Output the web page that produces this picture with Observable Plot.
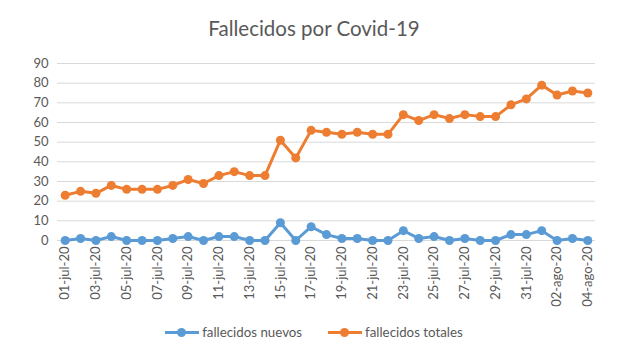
<!DOCTYPE html>
<html>
<head>
<meta charset="utf-8">
<script src="https://cdn.jsdelivr.net/npm/d3@7"></script>
<script src="https://cdn.jsdelivr.net/npm/@observablehq/plot@0.6"></script>
<style>
  body { margin: 0; background: #fff; font-family: Lato, "Open Sans", sans-serif; }
  #wrap { width: 628px; height: 353px; position: relative; overflow: hidden; }
  #title { position: absolute; top: 16px; left: 0; width: 628px; text-align: center; font-size: 20.5px; color: #595959; }
  #chart { position: absolute; top: 50px; left: 0; }
  #legend { position: absolute; top: 324px; left: 0; width: 628px; display: flex; justify-content: center; gap: 26px; font-size: 13.3px; color: #595959; }
  .item { display: flex; align-items: center; }
  .sw { position: relative; width: 34px; height: 12px; margin-right: 3px; }
  .sw .ln { position: absolute; left: 0; right: 0; top: 4.5px; height: 3px; }
  .sw .dt { position: absolute; left: 12px; top: 1.5px; width: 9px; height: 9px; border-radius: 50%; }
</style>
</head>
<body>
<div id="wrap">
  <div id="title">Fallecidos por Covid-19</div>
  <div id="chart"></div>
  <div id="legend"></div>
</div>
<script>
const fechas = ["01-jul-20","02-jul-20","03-jul-20","04-jul-20","05-jul-20","06-jul-20","07-jul-20","08-jul-20","09-jul-20","10-jul-20",
  "11-jul-20","12-jul-20","13-jul-20","14-jul-20","15-jul-20","16-jul-20","17-jul-20","18-jul-20","19-jul-20","20-jul-20",
  "21-jul-20","22-jul-20","23-jul-20","24-jul-20","25-jul-20","26-jul-20","27-jul-20","28-jul-20","29-jul-20","30-jul-20",
  "31-jul-20","01-ago-20","02-ago-20","03-ago-20","04-ago-20"];
const fallecidosNuevos = [0,1,0,2,0,0,0,1,2,0,2,2,0,0,9,0,7,3,1,1,0,0,5,1,2,0,1,0,0,3,3,5,0,1,0];
const fallecidosTotales = [23,25,24,28,26,26,26,28,31,29,33,35,33,33,51,42,56,55,54,55,54,54,64,61,64,62,64,63,63,69,72,79,74,76,75];
const yTicks = [0,10,20,30,40,50,60,70,80,90];
const seriesNames = ["fallecidos nuevos", "fallecidos totales"];
const colors = ["#5B9BD5", "#ED7D31"];

const data = [];
fechas.forEach((f, i) => {
  data.push({fecha: f, serie: seriesNames[0], valor: fallecidosNuevos[i]});
  data.push({fecha: f, serie: seriesNames[1], valor: fallecidosTotales[i]});
});
const xTicks = fechas.filter((d, i) => i % 2 === 0);

const chart = Plot.plot({
  width: 628,
  height: 262,
  marginTop: 13,
  marginLeft: 57,
  marginRight: 33,
  marginBottom: 72,
  style: { fontFamily: "Lato, 'Open Sans', sans-serif", fontSize: "13px", color: "#595959", background: "#fff" },
  x: { type: "point", domain: fechas, padding: 0.5, round: false, label: null },
  y: { domain: [0, 90], label: null },
  color: { domain: seriesNames, range: colors },
  marks: [
    Plot.gridY(yTicks, { stroke: "#d9d9d9", strokeOpacity: 1, strokeWidth: 1 }),
    Plot.axisY(yTicks, { tickSize: 0, tickPadding: 9, fontSize: 13, fill: "#595959" }),
    Plot.axisX(xTicks, { tickSize: 0, tickPadding: 6, tickRotate: -90, fontSize: 13, fill: "#595959" }),
    Plot.line(data, { x: "fecha", y: "valor", stroke: "serie", z: "serie", strokeWidth: 3, strokeLinejoin: "round" }),
    Plot.dot(data, { x: "fecha", y: "valor", fill: "serie", r: 4.5 })
  ]
});
document.getElementById("chart").appendChild(chart);

const legend = document.getElementById("legend");
seriesNames.forEach((s, i) => {
  const it = document.createElement("div");
  it.className = "item";
  it.innerHTML = `<div class="sw"><div class="ln" style="background:${colors[i]}"></div><div class="dt" style="background:${colors[i]}"></div></div><span>${s}</span>`;
  legend.appendChild(it);
});
</script>
</body>
</html>
